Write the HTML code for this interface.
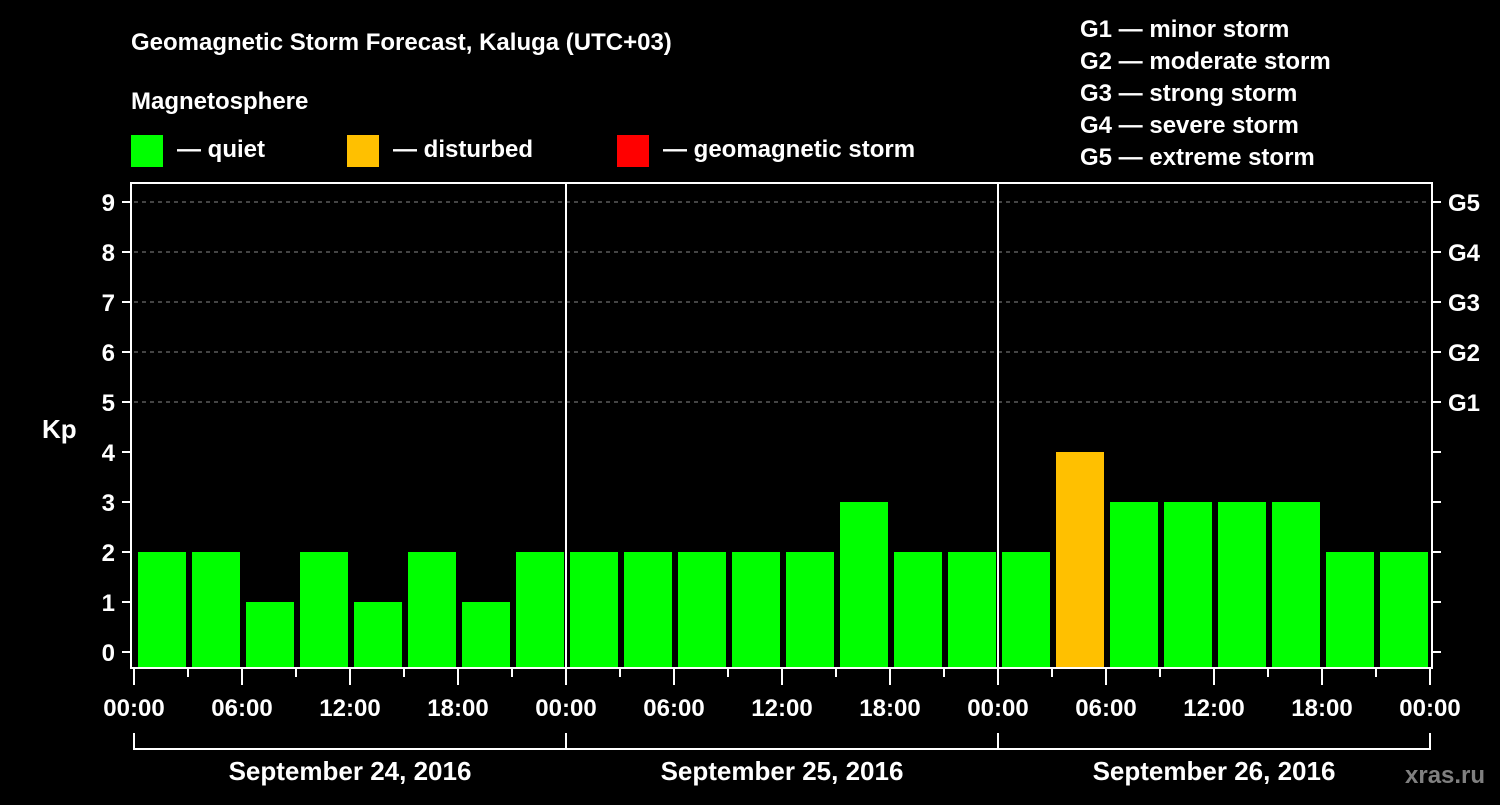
<!DOCTYPE html>
<html><head><meta charset="utf-8"><style>
body{margin:0;background:#000;width:1500px;height:800px;overflow:hidden;font-family:"Liberation Sans",Arial,sans-serif;}
svg text{font-family:"Liberation Sans",Arial,sans-serif;font-weight:bold;fill:#fff;}
</style></head><body>
<svg id="c" width="1500" height="800">
<text x="131" y="50" font-size="24">Geomagnetic Storm Forecast, Kaluga (UTC+03)</text>
<text x="131" y="109" font-size="24">Magnetosphere</text>
<g><rect x="131" y="135" width="32" height="32" fill="#00ff00"/><text x="177" y="157" font-size="24">— quiet</text></g>
<g><rect x="347" y="135" width="32" height="32" fill="#ffc000"/><text x="393" y="157" font-size="24">— disturbed</text></g>
<g><rect x="617" y="135" width="32" height="32" fill="#ff0000"/><text x="663" y="157" font-size="24">— geomagnetic storm</text></g>
<g font-size="24">
<text x="1080" y="37">G1 — minor storm</text><text x="1080" y="69">G2 — moderate storm</text><text x="1080" y="101">G3 — strong storm</text><text x="1080" y="133">G4 — severe storm</text><text x="1080" y="165">G5 — extreme storm</text></g>
<text x="42" y="438" font-size="26">Kp</text>
<text x="1405" y="783" font-size="24" style="fill:#808080">xras.ru</text>
<g id="plot"></g>
</svg>
<script>
const kpValues=[2,2,1,2,1,2,1,2, 2,2,2,2,2,3,2,2, 2,4,3,3,3,3,2,2];
const dayLabels=["September 24, 2016","September 25, 2016","September 26, 2016"];
const yTicks=[0,1,2,3,4,5,6,7,8,9];
const gLabels=["G1","G2","G3","G4","G5"];
const timeLabels=["00:00","06:00","12:00","18:00"];
const NS="http://www.w3.org/2000/svg";
const L=134,R=1430,T=183,B=668;
const nSlots=kpValues.length;
const x=i=>L+(R-L)*i/nSlots;
const y=v=>652-50*v;
const g=document.getElementById('plot');
function mk(t,a,p){const e=document.createElementNS(NS,t);for(const k in a)e.setAttribute(k,a[k]);(p||g).appendChild(e);return e;}
// grid
for(let v=5;v<=9;v++){const l=mk('line',{x1:L,x2:R,y1:y(v),y2:y(v),stroke:'#888','stroke-dasharray':'4,4'});

}
// bars
kpValues.forEach((v,i)=>{const color=v>=5?'#ff0000':(v>=4?'#ffc000':'#00ff00');
const r=mk('rect',{x:x(i)+4,y:y(v),width:(R-L)/nSlots-6,height:B-y(v),fill:color});

});
// day separators
for(let d=1;d<dayLabels.length;d++){const l=mk('line',{x1:x(d*8),x2:x(d*8),y1:T,y2:B,stroke:'#fff','stroke-width':2});

}
// frame
const fr=mk('rect',{x:131,y:T,width:R+2-131,height:B-T,fill:'none',stroke:'#fff','stroke-width':2});


// y ticks
yTicks.forEach(v=>{mk('line',{x1:122,x2:131,y1:y(v),y2:y(v),stroke:'#fff','stroke-width':2});
mk('line',{x1:R+2,x2:R+11,y1:y(v),y2:y(v),stroke:'#fff','stroke-width':2});
const t=mk('text',{x:115,y:y(v)+9,'font-size':24,'text-anchor':'end'});t.textContent=v;

});
gLabels.forEach((s,i)=>{const t=mk('text',{x:1448,y:y(5+i)+9,'font-size':24});t.textContent=s;

});
// x ticks
for(let i=0;i<=nSlots;i++){const major=i%2===0;mk('line',{x1:x(i),x2:x(i),y1:B,y2:major?685:677,stroke:'#fff','stroke-width':2});
if(major){const t=mk('text',{x:x(i),y:716,'font-size':24,'text-anchor':'middle'});t.textContent=i===nSlots?timeLabels[0]:timeLabels[(i/2)%4];

}}
// day brackets
dayLabels.forEach((s,d)=>{const a=x(d*8),b=x(d*8+8);
mk('line',{x1:a,x2:b,y1:749,y2:749,stroke:'#fff','stroke-width':2});
mk('line',{x1:a,x2:a,y1:733,y2:750,stroke:'#fff','stroke-width':2});
mk('line',{x1:b,x2:b,y1:733,y2:750,stroke:'#fff','stroke-width':2});
const t=mk('text',{x:(a+b)/2,y:780,'font-size':26,'text-anchor':'middle'});t.textContent=s;

});
</script>
</body></html>
